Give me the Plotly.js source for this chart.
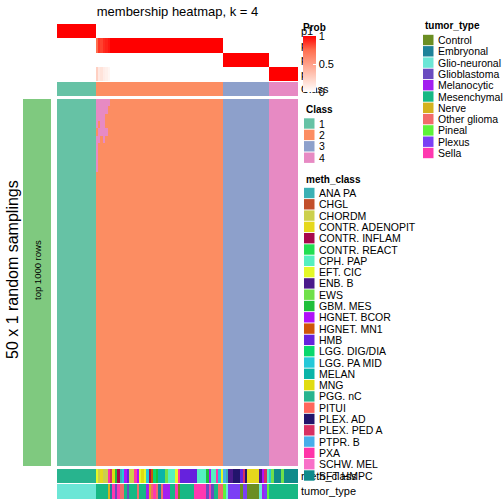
<!DOCTYPE html>
<html><head><meta charset="utf-8">
<script src="https://cdn.plot.ly/plotly-3.0.1.min.js"></script>
<style>html,body{margin:0;padding:0;background:#fff}#chart{width:504px;height:504px}</style>
</head><body><div id="chart"></div>
<script>
const W = 504, H = 504;

// ---- data ----
const classNames = ['1', '2', '3', '4'];
const classColors = ['#66C2A5', '#FC8D62', '#8DA0CB', '#E78AC3'];

const probLabels = ['p1', 'p2', 'p3', 'p4'];

const sampleClass = [
  1,1,1,1,1,1,1,1,1,1,
  1,1,1,1,1,1,2,2,2,2,
  2,2,2,2,2,2,2,2,2,2,
  2,2,2,2,2,2,2,2,2,2,
  2,2,2,2,2,2,2,2,2,2,
  2,2,2,2,2,2,2,2,2,2,
  2,2,2,2,2,2,2,2,2,3,
  3,3,3,3,3,3,3,3,3,3,
  3,3,3,3,3,3,3,3,4,4,
  4,4,4,4,4,4,4,4,4,4];

const p1 = [
  1,1,1,1,1,1,1,1,1,1,
  1,1,1,1,1,1,0,0,0,0,
  0,0,0,0,0,0,0,0,0,0,
  0,0,0,0,0,0,0,0,0,0,
  0,0,0,0,0,0,0,0,0,0,
  0,0,0,0,0,0,0,0,0,0,
  0,0,0,0,0,0,0,0,0,0,
  0,0,0,0,0,0,0,0,0,0,
  0,0,0,0,0,0,0,0,0,0,
  0,0,0,0,0,0,0,0,0,0];
const p2 = [
  0,0,0,0,0,0,0,0,0,0,
  0,0,0,0,0,0,0.75,0.88,0.85,0.9,
  0.92,0.95,1,1,1,1,1,1,1,1,
  1,1,1,1,1,1,1,1,1,1,
  1,1,1,1,1,1,1,1,1,1,
  1,1,1,1,1,1,1,1,1,1,
  1,1,1,1,1,1,1,1,1,0,
  0,0,0,0,0,0,0,0,0,0,
  0,0,0,0,0,0,0,0,0,0,
  0,0,0,0,0,0,0,0,0,0];
const p3 = [
  0,0,0,0,0,0,0,0,0,0,
  0,0,0,0,0,0,0,0,0,0,
  0,0,0,0,0,0,0,0,0,0,
  0,0,0,0,0,0,0,0,0,0,
  0,0,0,0,0,0,0,0,0,0,
  0,0,0,0,0,0,0,0,0,0,
  0,0,0,0,0,0,0,0,0,1,
  1,1,1,1,1,1,1,1,1,1,
  1,1,1,1,1,1,1,1,0,0,
  0,0,0,0,0,0,0,0,0,0];
const p4 = [
  0,0,0,0,0,0,0,0,0,0,
  0,0,0,0,0,0,0.25,0.12,0.15,0.1,
  0.08,0.05,0,0,0,0,0,0,0,0,
  0,0,0,0,0,0,0,0,0,0,
  0,0,0,0,0,0,0,0,0,0,
  0,0,0,0,0,0,0,0,0,0,
  0,0,0,0,0,0,0,0,0,0,
  0,0,0,0,0,0,0,0,0,0,
  0,0,0,0,0,0,0,0,1,1,
  1,1,1,1,1,1,1,1,1,1];

const nSamplings = 50;
// [sampling row, sample column, class] where a sampling disagrees with the consensus class
const deviantCells = [
  [0,16,4],[0,17,4],[0,18,4],[0,19,4],[0,20,4],[0,21,4],
  [1,16,4],[1,17,4],[1,18,4],[1,19,4],[1,20,4],
  [2,16,4],[2,17,4],[2,18,4],[2,19,4],
  [3,16,4],[3,18,4],[3,19,4],
  [4,17,4],[4,18,4],[4,19,4],[4,20,4],
  [5,16,4],[5,17,4],[5,19,4],
  [6,16,4],[7,16,4],[8,16,4],[9,16,4]];

const tumorTypes = ['Control','Embryonal','Glio-neuronal','Glioblastoma','Melanocytic','Mesenchymal','Nerve','Other glioma','Pineal','Plexus','Sella'];
const tumorColors = ['#6B8E23','#1E8299','#6CE6D6','#6A4CC0','#A21FF0','#17B884','#D4B21E','#F26B6B','#5DF23A','#7B3FF5','#FF38B0'];

const methClasses = ['ANA PA','CHGL','CHORDM','CONTR. ADENOPIT','CONTR. INFLAM','CONTR. REACT','CPH. PAP','EFT. CIC','ENB. B','EWS','GBM. MES','HGNET. BCOR','HGNET. MN1','HMB','LGG. DIG/DIA','LGG. PA MID','MELAN','MNG','PGG. nC','PITUI','PLEX. AD','PLEX. PED A','PTPR. B','PXA','SCHW. MEL','SFT HMPC'];
const methColors = ['#3AB0B4','#C24F2B','#CCD04C','#E6D81C','#A8084C','#22DF52','#55F0C0','#E4F828','#4A1A8A','#70E04A','#1FBF3A','#B011F8','#D05508','#6622DD','#08D86C','#24C8D8','#0AB4A8','#E0DC10','#28B48E','#FF665C','#22146C','#D83062','#48AEEA','#FF34A8','#F870C8','#0E8A8A'];

const sampleMeth = [
  'PGG. nC','PGG. nC','PGG. nC','PGG. nC','PGG. nC','PGG. nC','PGG. nC','PGG. nC','PGG. nC','PGG. nC',
  'PGG. nC','PGG. nC','PGG. nC','PGG. nC','PGG. nC','PGG. nC','EFT. CIC','CHORDM','CONTR. ADENOPIT','CHORDM',
  'CHORDM','PXA','PLEX. PED A','MNG','GBM. MES','CONTR. INFLAM','ANA PA','LGG. PA MID','HGNET. BCOR','HMB',
  'CHORDM','CHORDM','PXA','HGNET. BCOR','EFT. CIC','MNG','EFT. CIC','LGG. PA MID','CONTR. INFLAM','HGNET. MN1',
  'LGG. DIG/DIA','GBM. MES','MELAN','MELAN','MELAN','EWS','CPH. PAP','CPH. PAP','CPH. PAP','EFT. CIC',
  'PXA','HMB','HMB','HMB','HMB','HMB','HMB','HMB','CPH. PAP','CPH. PAP',
  'CPH. PAP','CPH. PAP','GBM. MES','HGNET. BCOR','CPH. PAP','CPH. PAP','PXA','LGG. PA MID','EFT. CIC','PTPR. B',
  'ANA PA','ENB. B','ENB. B','PLEX. AD','PLEX. AD','PLEX. AD','HMB','PLEX. PED A','PLEX. AD','CONTR. ADENOPIT',
  'CONTR. ADENOPIT','CONTR. ADENOPIT','CONTR. ADENOPIT','CONTR. ADENOPIT','ENB. B','HGNET. BCOR','PLEX. PED A','CPH. PAP','LGG. PA MID','EWS',
  'SFT HMPC','SFT HMPC','SFT HMPC','EWS','SFT HMPC','SFT HMPC','SFT HMPC','SFT HMPC','SFT HMPC','SFT HMPC'];

const sampleTumor = [
  'Glio-neuronal','Glio-neuronal','Glio-neuronal','Glio-neuronal','Glio-neuronal','Glio-neuronal','Glio-neuronal','Glio-neuronal','Glio-neuronal','Glio-neuronal',
  'Glio-neuronal','Glio-neuronal','Glio-neuronal','Glio-neuronal','Glio-neuronal','Glio-neuronal','Mesenchymal','Mesenchymal','Mesenchymal','Mesenchymal',
  'Mesenchymal','Nerve','Embryonal','Sella','Glioblastoma','Sella','Other glioma','Other glioma','Mesenchymal','Glioblastoma',
  'Mesenchymal','Mesenchymal','Mesenchymal','Other glioma','Mesenchymal','Mesenchymal','Mesenchymal','Melanocytic','Nerve','Other glioma',
  'Sella','Other glioma','Embryonal','Other glioma','Melanocytic','Melanocytic','Melanocytic','Mesenchymal','Mesenchymal','Sella',
  'Control','Mesenchymal','Mesenchymal','Mesenchymal','Mesenchymal','Mesenchymal','Mesenchymal','Sella','Sella','Sella',
  'Sella','Sella','Glioblastoma','Sella','Glioblastoma','Mesenchymal','Mesenchymal','Other glioma','Other glioma','Pineal',
  'Glio-neuronal','Plexus','Plexus','Plexus','Plexus','Plexus','Control','Plexus','Plexus','Control',
  'Control','Control','Control','Control','Glio-neuronal','Melanocytic','Plexus','Pineal','Mesenchymal','Mesenchymal',
  'Mesenchymal','Mesenchymal','Mesenchymal','Mesenchymal','Mesenchymal','Mesenchymal','Mesenchymal','Mesenchymal','Mesenchymal','Mesenchymal'];

const samplingLabel = '50 x 1 random samplings';
const rowGroupLabel = 'top 1000 rows';
const rowGroupColor = '#7FC97F';
const chartTitle = 'membership heatmap, k = 4';

// ---- helpers ----
const FONT = 'Liberation Sans, Arial, sans-serif';
const px = v => v / W;
const py = v => 1 - v / H;
function discreteScale(colors) {
  const n = colors.length, s = [];
  colors.forEach((c, i) => { s.push([i / n, c]); s.push([(i + 1) / n, c]); });
  return s;
}
const nS = sampleClass.length;
const xs = sampleClass.map((_, i) => i);

// main membership matrix
const mainZ = [];
for (let r = 0; r < nSamplings; r++) mainZ.push(sampleClass.slice());
deviantCells.forEach(([r, c, k]) => { mainZ[r][c] = k; });

const traces = [];
// probability rows
traces.push({
  type: 'heatmap', x: xs, y: [0, 1, 2, 3], z: [p1, p2, p3, p4],
  xaxis: 'x', yaxis: 'y', zmin: 0, zmax: 1, hoverinfo: 'skip',
  colorscale: [[0, '#FFFFFF'], [0.25, '#FFD0C2'], [0.5, '#FFA088'], [0.75, '#FF6E4E'], [1, '#FF0000']],
  showscale: true,
  colorbar: {
    x: px(303), xanchor: 'left', y: py(20), yanchor: 'top', len: 72, lenmode: 'pixels',
    thickness: 13, thicknessmode: 'pixels', outlinewidth: 0, xpad: 0, ypad: 0,
    tickvals: [0, 0.5, 1], ticktext: ['0', '0.5', '1'], ticks: 'inside', ticklen: 3, tickcolor: '#FFFFFF',
    tickfont: { size: 11, family: FONT, color: '#000' },
    title: { text: '<b>Prob</b>', side: 'top', font: { size: 10, family: FONT, color: '#000' } }
  }
});
// class row
traces.push({
  type: 'heatmap', x: xs, y: [0], z: [sampleClass], xaxis: 'x', yaxis: 'y2',
  zmin: 0.5, zmax: 4.5, colorscale: discreteScale(classColors), showscale: false, hoverinfo: 'skip'
});
// main membership heatmap
traces.push({
  type: 'heatmap', x: xs, y: mainZ.map((_, i) => i), z: mainZ, xaxis: 'x', yaxis: 'y3',
  zmin: 0.5, zmax: 4.5, colorscale: discreteScale(classColors), showscale: false, hoverinfo: 'skip'
});
// meth_class row
traces.push({
  type: 'heatmap', x: xs, y: [0], z: [sampleMeth.map(m => methClasses.indexOf(m))], xaxis: 'x', yaxis: 'y4',
  zmin: -0.5, zmax: methClasses.length - 0.5, colorscale: discreteScale(methColors), showscale: false, hoverinfo: 'skip'
});
// tumor_type row
traces.push({
  type: 'heatmap', x: xs, y: [0], z: [sampleTumor.map(t => tumorTypes.indexOf(t))], xaxis: 'x', yaxis: 'y5',
  zmin: -0.5, zmax: tumorTypes.length - 0.5, colorscale: discreteScale(tumorColors), showscale: false, hoverinfo: 'skip'
});
// row-group bar
traces.push({
  type: 'heatmap', x: [0], y: [0], z: [[1]], xaxis: 'x2', yaxis: 'y6',
  colorscale: [[0, rowGroupColor], [1, rowGroupColor]], showscale: false, hoverinfo: 'skip'
});

const hid = { showgrid: false, zeroline: false, showline: false, ticks: '', showticklabels: false };
function rightAxis(top, bottom, n, labels) {
  return Object.assign({}, hid, {
    domain: [py(bottom), py(top)], range: [n - 0.5, -0.5], anchor: 'x', side: 'right',
    showticklabels: !!labels, tickvals: labels ? labels.map((_, i) => i) : [], ticktext: labels || [],
    tickfont: { size: 11, family: FONT, color: '#000' }, ticklabelstandoff: 2
  });
}

const annotations = [];
const shapes = [];
function legendBlock(title, names, colors, x0, titleY, firstY, step) {
  annotations.push({ text: '<b>' + title + '</b>', x: px(x0), y: py(titleY), xref: 'paper', yref: 'paper',
    xanchor: 'left', yanchor: 'middle', showarrow: false, font: { size: 10, family: FONT, color: '#000' } });
  names.forEach((nm, i) => {
    const cy = firstY + i * step;
    shapes.push({ type: 'rect', xref: 'paper', yref: 'paper', x0: px(x0), x1: px(x0 + 10.5),
      y0: py(cy - 5.2), y1: py(cy + 5.2), fillcolor: colors[i], line: { width: 0 } });
    annotations.push({ text: nm, x: px(x0 + 12.5), y: py(cy), xref: 'paper', yref: 'paper',
      xanchor: 'left', yanchor: 'middle', showarrow: false, font: { size: 10.5, family: FONT, color: '#000' } });
  });
}
legendBlock('Class', classNames, classColors, 304, 109, 123.5, 11.4);
legendBlock('tumor_type', tumorTypes, tumorColors, 423, 25, 40, 11.3);
legendBlock('meth_class', methClasses, methColors, 304, 179, 193, 11.3);

annotations.push({ text: samplingLabel, textangle: -90, x: px(12), y: py(270), xref: 'paper', yref: 'paper',
  xanchor: 'center', yanchor: 'middle', showarrow: false, font: { size: 16, family: FONT, color: '#000' } });
annotations.push({ text: rowGroupLabel, textangle: -90, x: px(37), y: py(270), xref: 'paper', yref: 'paper',
  xanchor: 'center', yanchor: 'middle', showarrow: false, font: { size: 9.5, family: FONT, color: '#000' } });

const layout = {
  width: W, height: H, margin: { l: 0, r: 0, t: 0, b: 0 }, paper_bgcolor: '#fff', plot_bgcolor: '#fff',
  showlegend: false, font: { family: FONT, color: '#000' },
  title: { text: chartTitle, x: px(177.5), xanchor: 'center', xref: 'paper', y: py(11), yanchor: 'middle',
    font: { size: 13, family: FONT, color: '#000' } },
  xaxis: Object.assign({}, hid, { domain: [px(57), px(298)], range: [-0.5, nS - 0.5] }),
  xaxis2: Object.assign({}, hid, { domain: [px(23), px(51)], range: [-0.5, 0.5], anchor: 'y6' }),
  yaxis: rightAxis(24, 81, 4, probLabels),
  yaxis2: rightAxis(82, 96, 1, ['Class']),
  yaxis3: rightAxis(99, 466, nSamplings, null),
  yaxis4: rightAxis(469, 483, 1, ['meth_class']),
  yaxis5: rightAxis(484, 499, 1, ['tumor_type']),
  yaxis6: Object.assign({}, hid, { domain: [py(466), py(99)], range: [-0.5, 0.5], anchor: 'x2' }),
  annotations: annotations, shapes: shapes
};

Plotly.newPlot('chart', traces, layout, { displayModeBar: false, staticPlot: true });
</script></body></html>
